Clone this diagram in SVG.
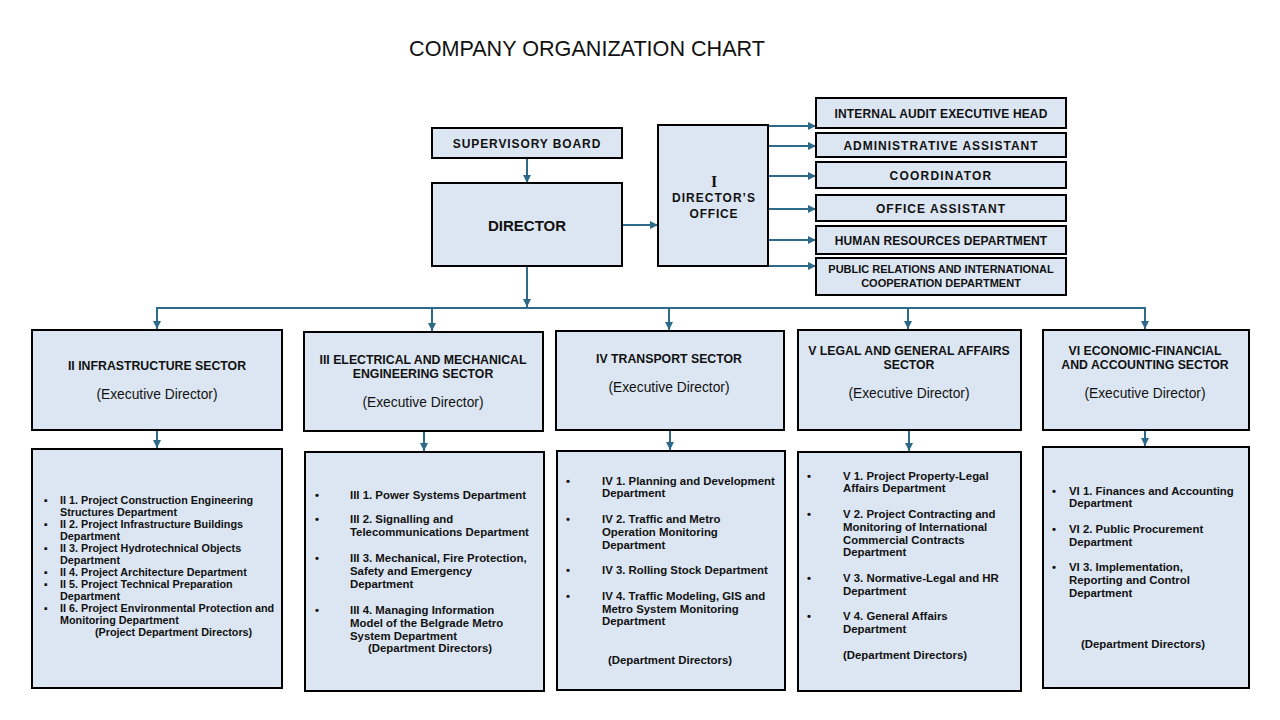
<svg xmlns="http://www.w3.org/2000/svg" width="1280" height="720" viewBox="0 0 1280 720">
<defs>
<marker id="ah" viewBox="0 0 10 10" refX="10" refY="5" markerWidth="9" markerHeight="8" markerUnits="userSpaceOnUse" orient="auto">
<path d="M0,0 L10,5 L0,10 z" fill="#2d6a87"/>
</marker>
<style>
.box{fill:#dce6f2;stroke:#000;stroke-width:2}
.conn{stroke:#2d6a87;stroke-width:2;fill:none}
.arr{marker-end:url(#ah)}
.t{font-family:"Liberation Sans",Arial,sans-serif;fill:#111}
.sf{font-family:"Liberation Serif","Times New Roman",serif;fill:#111}
.h{font-weight:bold;font-size:12.3px;text-anchor:middle}
.ed{font-size:13.8px;text-anchor:middle}
.d{font-weight:bold;font-size:11.4px}
.d2{font-weight:bold;font-size:10.8px}
.r{font-weight:bold;font-size:12px;text-anchor:middle}
</style>
</defs>
<rect width="1280" height="720" fill="#fff"/>
<text class="t" x="587" y="56" font-size="21.6" text-anchor="middle">COMPANY ORGANIZATION CHART</text>

<g id="connectors">
<line class="conn arr" x1="527" y1="158" x2="527" y2="183"/>
<line class="conn arr" x1="622" y1="225" x2="658" y2="225"/>
<line class="conn arr" x1="768" y1="126" x2="816" y2="126"/>
<line class="conn arr" x1="768" y1="146" x2="816" y2="146"/>
<line class="conn arr" x1="768" y1="176" x2="816" y2="176"/>
<line class="conn arr" x1="768" y1="209" x2="816" y2="209"/>
<line class="conn arr" x1="768" y1="240" x2="816" y2="240"/>
<line class="conn arr" x1="753" y1="266" x2="816" y2="266"/>
<line class="conn arr" x1="527" y1="266" x2="527" y2="307"/>
<line class="conn" x1="156" y1="308" x2="1146" y2="308"/>
<line class="conn arr" x1="157" y1="308" x2="157" y2="329"/>
<line class="conn arr" x1="432" y1="308" x2="432" y2="331"/>
<line class="conn arr" x1="669" y1="308" x2="669" y2="330"/>
<line class="conn arr" x1="908" y1="308" x2="908" y2="329"/>
<line class="conn arr" x1="1145" y1="308" x2="1145" y2="329"/>
<line class="conn arr" x1="157" y1="430" x2="157" y2="448"/>
<line class="conn arr" x1="424" y1="431" x2="424" y2="451"/>
<line class="conn arr" x1="670" y1="430" x2="670" y2="450"/>
<line class="conn arr" x1="909" y1="430" x2="909" y2="451"/>
<line class="conn arr" x1="1145" y1="430" x2="1145" y2="446"/>
</g>

<g id="supervisory-board">
<rect class="box" x="432" y="128" width="190" height="30"/>
<text class="t r" x="527" y="147.5" letter-spacing="0.9">SUPERVISORY BOARD</text>
</g>
<g id="director">
<rect class="box" x="432" y="183" width="190" height="83"/>
<text class="t" x="527" y="231" font-size="15" font-weight="bold" text-anchor="middle">DIRECTOR</text>
</g>
<g id="directors-office">
<rect class="box" x="658" y="125" width="110" height="141"/>
<text class="sf" x="714" y="187" font-size="16" font-weight="bold" text-anchor="middle">I</text>
<text class="t r" x="714" y="202" letter-spacing="1">DIRECTOR’S</text>
<text class="t r" x="714" y="218" letter-spacing="0.8">OFFICE</text>
</g>
<g id="internal-audit">
<rect class="box" x="816" y="98" width="250" height="30"/>
<text class="t r" x="941" y="117.5" letter-spacing="0.15">INTERNAL AUDIT EXECUTIVE HEAD</text>
</g>
<g id="admin-assistant">
<rect class="box" x="816" y="133" width="250" height="24"/>
<text class="t r" x="941" y="149.5" letter-spacing="1">ADMINISTRATIVE ASSISTANT</text>
</g>
<g id="coordinator">
<rect class="box" x="816" y="162" width="250" height="26"/>
<text class="t r" x="941" y="180" letter-spacing="1.2">COORDINATOR</text>
</g>
<g id="office-assistant">
<rect class="box" x="816" y="195" width="250" height="26"/>
<text class="t r" x="941" y="212.5" letter-spacing="1">OFFICE ASSISTANT</text>
</g>
<g id="hr">
<rect class="box" x="816" y="226" width="250" height="28"/>
<text class="t r" x="941" y="244.5" letter-spacing="0.1">HUMAN RESOURCES DEPARTMENT</text>
</g>
<g id="public-relations">
<rect class="box" x="816" y="258" width="250" height="37"/>
<text class="t" x="941" y="273" font-size="11" font-weight="bold" text-anchor="middle">PUBLIC RELATIONS AND INTERNATIONAL</text>
<text class="t" x="941" y="287" font-size="11" font-weight="bold" text-anchor="middle">COOPERATION DEPARTMENT</text>
</g>

<g id="sector-II">
<rect class="box" x="32" y="330" width="250" height="100"/>
<text class="t h" x="157" y="370">II INFRASTRUCTURE SECTOR</text>
<text class="t ed" x="157" y="399">(Executive Director)</text>
</g>
<g id="sector-III">
<rect class="box" x="304" y="332" width="239" height="99"/>
<text class="t h" x="423" y="364">III ELECTRICAL AND MECHANICAL</text>
<text class="t h" x="423" y="378">ENGINEERING SECTOR</text>
<text class="t ed" x="423" y="407">(Executive Director)</text>
</g>
<g id="sector-IV">
<rect class="box" x="556" y="331" width="228" height="99"/>
<text class="t h" x="669" y="363">IV TRANSPORT SECTOR</text>
<text class="t ed" x="669" y="392">(Executive Director)</text>
</g>
<g id="sector-V">
<rect class="box" x="798" y="330" width="223" height="100"/>
<text class="t h" x="909" y="355">V LEGAL AND GENERAL AFFAIRS</text>
<text class="t h" x="909" y="369">SECTOR</text>
<text class="t ed" x="909" y="398">(Executive Director)</text>
</g>
<g id="sector-VI">
<rect class="box" x="1043" y="330" width="206" height="100"/>
<text class="t h" x="1145" y="355">VI ECONOMIC-FINANCIAL</text>
<text class="t h" x="1145" y="369">AND ACCOUNTING SECTOR</text>
<text class="t ed" x="1145" y="398">(Executive Director)</text>
</g>

<g id="departments-II">
<rect class="box" x="32" y="449" width="250" height="239"/>
<g class="t d2">
<text x="44" y="504">▪</text><text x="60" y="504">II 1. Project Construction Engineering</text>
<text x="60" y="516">Structures Department</text>
<text x="44" y="528">▪</text><text x="60" y="528">II 2. Project Infrastructure Buildings</text>
<text x="60" y="540">Department</text>
<text x="44" y="552">▪</text><text x="60" y="552">II 3. Project Hydrotechnical Objects</text>
<text x="60" y="564">Department</text>
<text x="44" y="576">▪</text><text x="60" y="576">II 4. Project Architecture Department</text>
<text x="44" y="588">▪</text><text x="60" y="588">II 5. Project Technical Preparation</text>
<text x="60" y="600">Department</text>
<text x="44" y="612">▪</text><text x="60" y="612">II 6. Project Environmental Protection and</text>
<text x="60" y="624">Monitoring Department</text>
<text x="95" y="636">(Project Department Directors)</text>
</g>
</g>
<g id="departments-III">
<rect class="box" x="305" y="452" width="239" height="239"/>
<g class="t d">
<text x="315" y="499">•</text><text x="350" y="499">III 1. Power Systems Department</text>
<text x="315" y="523">•</text><text x="350" y="523">III 2. Signalling and</text>
<text x="350" y="536">Telecommunications Department</text>
<text x="315" y="562">•</text><text x="350" y="562">III 3. Mechanical, Fire Protection,</text>
<text x="350" y="575">Safety and Emergency</text>
<text x="350" y="588">Department</text>
<text x="315" y="614">•</text><text x="350" y="614">III 4. Managing Information</text>
<text x="350" y="627">Model of the Belgrade Metro</text>
<text x="350" y="640">System Department</text>
<text x="368" y="652">(Department Directors)</text>
</g>
</g>
<g id="departments-IV">
<rect class="box" x="557" y="451" width="228" height="239"/>
<g class="t d">
<text x="566" y="485">•</text><text x="602" y="485">IV 1. Planning and Development</text>
<text x="602" y="497">Department</text>
<text x="566" y="523">•</text><text x="602" y="523">IV 2. Traffic and Metro</text>
<text x="602" y="536">Operation Monitoring</text>
<text x="602" y="549">Department</text>
<text x="566" y="574">•</text><text x="602" y="574">IV 3. Rolling Stock Department</text>
<text x="566" y="600">•</text><text x="602" y="600">IV 4. Traffic Modeling, GIS and</text>
<text x="602" y="613">Metro System Monitoring</text>
<text x="602" y="625">Department</text>
<text x="608" y="664">(Department Directors)</text>
</g>
</g>
<g id="departments-V">
<rect class="box" x="798" y="452" width="223" height="239"/>
<g class="t d">
<text x="807" y="480">•</text><text x="843" y="480">V 1. Project Property-Legal</text>
<text x="843" y="492">Affairs Department</text>
<text x="807" y="518">•</text><text x="843" y="518">V 2. Project Contracting and</text>
<text x="843" y="531">Monitoring of International</text>
<text x="843" y="544">Commercial Contracts</text>
<text x="843" y="556">Department</text>
<text x="807" y="582">•</text><text x="843" y="582">V 3. Normative-Legal and HR</text>
<text x="843" y="595">Department</text>
<text x="807" y="620">•</text><text x="843" y="620">V 4. General Affairs</text>
<text x="843" y="633">Department</text>
<text x="843" y="659">(Department Directors)</text>
</g>
</g>
<g id="departments-VI">
<rect class="box" x="1043" y="447" width="206" height="241"/>
<g class="t d">
<text x="1052" y="495">•</text><text x="1069" y="495">VI 1. Finances and Accounting</text>
<text x="1069" y="507">Department</text>
<text x="1052" y="533">•</text><text x="1069" y="533">VI 2. Public Procurement</text>
<text x="1069" y="546">Department</text>
<text x="1052" y="571">•</text><text x="1069" y="571">VI 3. Implementation,</text>
<text x="1069" y="584">Reporting and Control</text>
<text x="1069" y="597">Department</text>
<text x="1081" y="648">(Department Directors)</text>
</g>
</g>
</svg>
